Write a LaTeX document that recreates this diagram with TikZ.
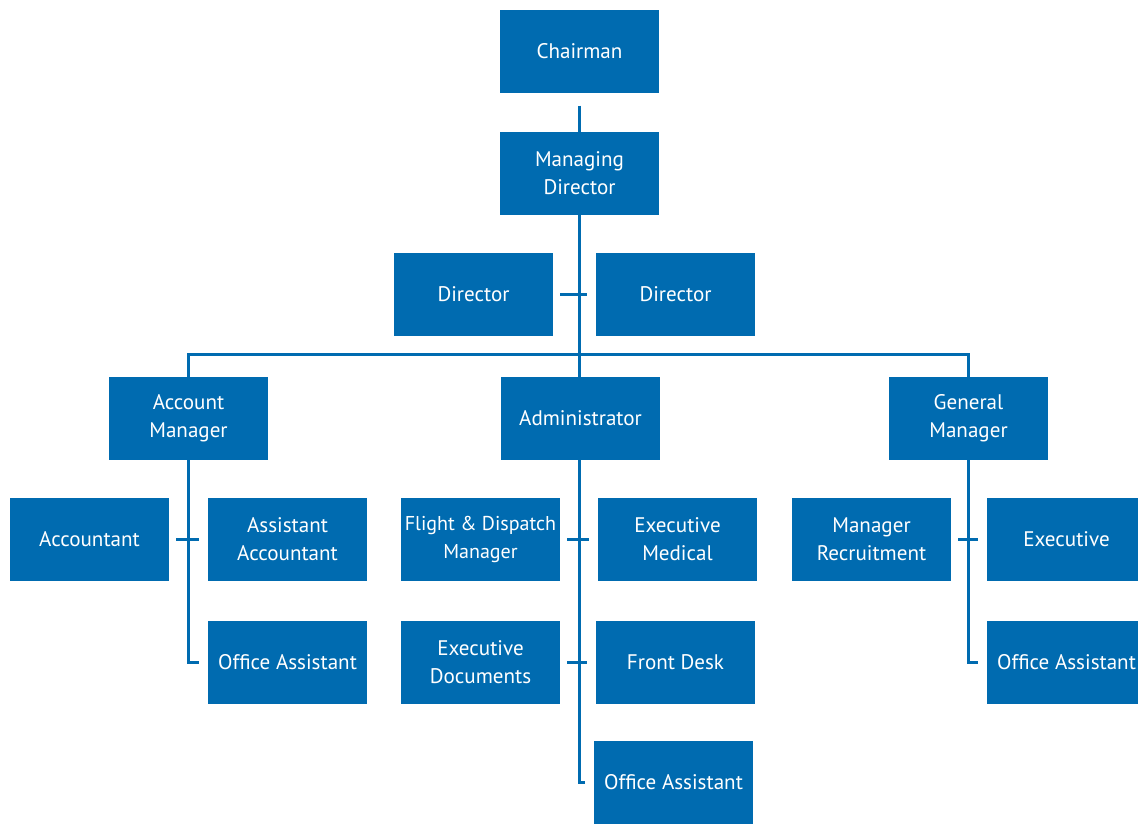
\documentclass[tikz,border=0pt]{standalone}
\usepackage{fontspec}
\setmainfont{PT Sans}
\definecolor{orgblue}{HTML}{006BB0}
\tikzset{
  post/.style={fill=orgblue, text=white, minimum width=3.18cm, minimum height=1.66cm,
    inner sep=0pt, align=center, font=\fontsize{12}{16}\selectfont},
  link/.style={draw=orgblue, line width=1.7pt},
  tee/.style={link, shorten <=4pt, shorten >=5pt}
}
\begin{document}
\begin{tikzpicture}[x=0.02cm, y=-0.02cm]
\useasboundingbox (0,0) rectangle (1138,823);
\fill[white] (0,0) rectangle (1138,823);

% top of the chart
\node[post] (chair) at (579.5,51.5) {Chairman};
\node[post] (md) at (579.5,173.5) {Managing\\Director};
\node[post] (dirl) at (473.5,294.5) {Director};
\node[post] (dirr) at (675.5,294.5) {Director};

% heads of the three branches
\node[post] (acm) at (188.5,418.5) {Account\\Manager};
\node[post] (adm) at (580.5,418.5) {Administrator};
\node[post] (gm) at (968.5,418.5) {General\\Manager};

% account branch
\node[post] (acc) at (89.5,539.5) {Accountant};
\node[post] (aacc) at (287.5,539.5) {Assistant\\Accountant};
\node[post] (oaacc) at (287.5,662.5) {Office Assistant};

% administration branch
\node[post, font=\fontsize{11.4}{16}\selectfont] (fdm) at (480.5,539.5) {Flight \& Dispatch\\Manager};
\node[post] (exmed) at (677.5,539.5) {Executive\\Medical};
\node[post] (exdoc) at (480.5,662.5) {Executive\\Documents};
\node[post] (fdesk) at (675.5,662.5) {Front Desk};
\node[post] (oaadm) at (673.5,782.5) {Office Assistant};

% general branch
\node[post] (mrec) at (871.5,539.5) {Manager\\Recruitment};
\node[post] (exec) at (1066.5,539.5) {Executive};
\node[post] (oagm) at (1066.5,662.5) {Office Assistant};

\coordinate (trunk) at (md.south);
\draw[link, shorten <=7pt] (chair) -- (md);
\draw[link] (md.south) -- (trunk |- adm.north);
\draw[tee] (dirl) -- (dirr);
\draw[link] (acm.north) -- ++(0,-22) -| (gm.north);

\draw[link] (acm.south) |- ([xshift=-5pt]oaacc.west);
\draw[tee] (acc) -- (aacc);

\draw[link] (trunk |- adm.south) |- ([xshift=-5pt]oaadm.west);
\draw[tee] (fdm) -- (exmed);
\draw[tee] (exdoc) -- (fdesk);

\draw[link] (gm.south) |- ([xshift=-5pt]oagm.west);
\draw[tee] (mrec) -- (exec);
\end{tikzpicture}
\end{document}
